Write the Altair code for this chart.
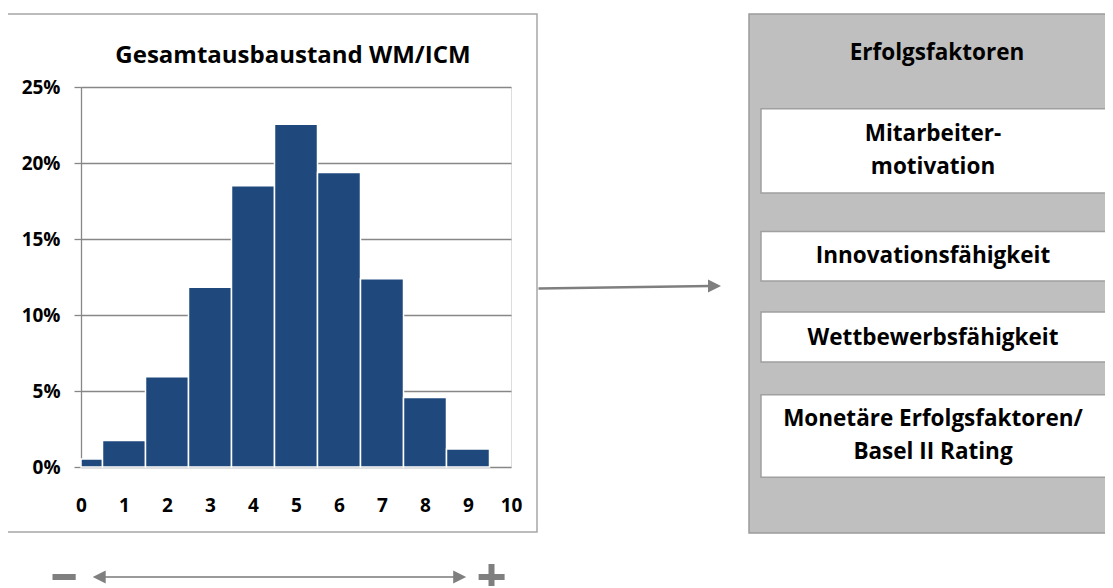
import altair as alt
import pandas as pd

# ---- data ----
scores = [0, 1, 2, 3, 4, 5, 6, 7, 8, 9]
shares = [0.53, 1.75, 5.93, 11.83, 18.50, 22.55, 19.38, 12.39, 4.57, 1.18]  # percent
x_ticks = [0, 1, 2, 3, 4, 5, 6, 7, 8, 9, 10]
y_ticks = [0, 0.05, 0.10, 0.15, 0.20, 0.25]
chart_title = "Gesamtausbaustand WM/ICM"
panel_title = "Erfolgsfaktoren"
factor_lines = [
    ["Mitarbeiter-", "motivation"],
    ["Innovationsfähigkeit"],
    ["Wettbewerbsfähigkeit"],
    ["Monetäre Erfolgsfaktoren/", "Basel II Rating"],
]

FONT = "Open Sans"
BAR = "#1F497D"
GRID = "#878787"
FRAME = "#A6A6A6"
ARROW = "#7F7F7F"

hist = pd.DataFrame({"score": scores, "share": [s / 100 for s in shares]})

# ---- layout (pixels relative to plot area origin) ----
frames = pd.DataFrame([{"x": -74, "x2": 456, "y": -73, "y2": 445}])
gray_panel = pd.DataFrame([{"x": 668, "x2": 1060, "y": -73, "y2": 446}])
box_y = [(21.7, 106), (144.4, 194), (225, 275), (307.7, 390.3)]
white_boxes = pd.DataFrame([{"x": 680, "x2": 1031, "y": a, "y2": b} for a, b in box_y])
line_y = [[47, 80], [169], [250.5], [332, 365]]
box_text = pd.DataFrame([
    {"x": 852, "y": yy, "t": t}
    for lines, ys in zip(factor_lines, line_y)
    for t, yy in zip(lines, ys)
])
panel_text = pd.DataFrame([{"x": 856, "y": -34.5, "t": panel_title}])
title_text = pd.DataFrame([{"x": 212, "y": -31, "t": chart_title}])

conn_line = pd.DataFrame([{"x": 457.5, "x2": 629, "y": 201.5, "y2": 199}])
scale_line = pd.DataFrame([{"x": 15, "x2": 380, "y": 490, "y2": 490}])
heads = pd.DataFrame([
    {"x": 633.5, "y": 199, "dir": "r"},
    {"x": 378.7, "y": 490, "dir": "r"},
    {"x": 18.2, "y": 490, "dir": "l"},
])
signs = pd.DataFrame([
    {"x": -28.5, "x2": -5.3, "y": 487, "y2": 493},
    {"x": 397.6, "x2": 423.6, "y": 487, "y2": 493},
    {"x": 407.5, "x2": 413.5, "y": 477, "y2": 503},
])

X = lambda f: alt.X(f, type="quantitative", scale=None, axis=None)
Y = lambda f: alt.Y(f, type="quantitative", scale=None, axis=None)

frame_layer = alt.Chart(frames).mark_rect(
    fill="white", fillOpacity=0, stroke=FRAME, strokeWidth=1.5
).encode(x=X("x"), x2="x2", y=Y("y"), y2="y2")

panel_layer = alt.Chart(gray_panel).mark_rect(
    fill="#BFBFBF", stroke="#9C9C9C", strokeWidth=1.5
).encode(x=X("x"), x2="x2", y=Y("y"), y2="y2")

boxes_layer = alt.Chart(white_boxes).mark_rect(
    fill="white", stroke="#A0A0A0", strokeWidth=1.5
).encode(x=X("x"), x2="x2", y=Y("y"), y2="y2")

box_text_layer = alt.Chart(box_text).mark_text(
    font=FONT, fontSize=22.5, fontWeight="bold", color="black", align="center", baseline="middle"
).encode(x=X("x"), y=Y("y"), text="t:N")

panel_text_layer = alt.Chart(panel_text).mark_text(
    font=FONT, fontSize=22.5, fontWeight="bold", color="black", align="center", baseline="middle"
).encode(x=X("x"), y=Y("y"), text="t:N")

title_layer = alt.Chart(title_text).mark_text(
    font=FONT, fontSize=24, fontWeight="bold", color="black", align="center", baseline="middle"
).encode(x=X("x"), y=Y("y"), text="t:N")

conn_layer = alt.Chart(conn_line).mark_rule(color=ARROW, strokeWidth=2.5).encode(
    x=X("x"), x2="x2", y=Y("y"), y2="y2"
)
scale_layer = alt.Chart(scale_line).mark_rule(color="#9A9A9A", strokeWidth=2).encode(
    x=X("x"), x2="x2", y=Y("y"), y2="y2"
)
head_r = alt.Chart(heads).transform_filter("datum.dir == 'r'").mark_point(
    shape="M-1,-1 L1,0 L-1,1 Z", filled=True, size=169, color=ARROW, opacity=1
).encode(x=X("x"), y=Y("y"))
head_l = alt.Chart(heads).transform_filter("datum.dir == 'l'").mark_point(
    shape="M1,-1 L-1,0 L1,1 Z", filled=True, size=169, color=ARROW, opacity=1
).encode(x=X("x"), y=Y("y"))
signs_layer = alt.Chart(signs).mark_rect(color=ARROW).encode(
    x=X("x"), x2="x2", y=Y("y"), y2="y2"
)

bars = alt.Chart(hist).transform_calculate(
    x0="max(datum.score - 0.5, 0)", x1="datum.score + 0.5"
).mark_rect(color=BAR, stroke="white", strokeWidth=1.5).encode(
    x=alt.X(
        "x0:Q",
        scale=alt.Scale(domain=[0, 10], nice=False, zero=False),
        axis=alt.Axis(
            values=x_ticks, title=None, grid=False, domain=False, ticks=False,
            labelFont=FONT, labelFontSize=19, labelFontWeight="bold", labelColor="black",
            labelPadding=38, labelBaseline="middle", labelFlush=False, format="d",
        ),
    ),
    x2="x1:Q",
    y=alt.Y(
        "share:Q",
        scale=alt.Scale(domain=[0, 0.25], nice=False),
        axis=alt.Axis(
            values=y_ticks, format=".0%", title=None,
            grid=True, gridColor=GRID, gridWidth=1.3,
            domain=True, domainColor=GRID, domainWidth=1.3,
            ticks=True, tickColor=GRID, tickWidth=1.3, tickSize=7,
            labelFont=FONT, labelFontSize=19, labelFontWeight="bold", labelColor="black",
            labelPadding=14,
        ),
    ),
    tooltip=["score:Q", "share:Q"],
)

chart = alt.layer(
    frame_layer, panel_layer, boxes_layer, bars,
    title_layer, panel_text_layer, box_text_layer,
    conn_layer, scale_layer, head_r, head_l, signs_layer,
).properties(
    width=430, height=380,
    padding={"left": 73, "top": 79, "right": 594, "bottom": 119},
    autosize="none",
).configure_view(stroke=None).configure(background="white")

chart.save("out.html", embed_options={"renderer": "svg", "actions": False})
